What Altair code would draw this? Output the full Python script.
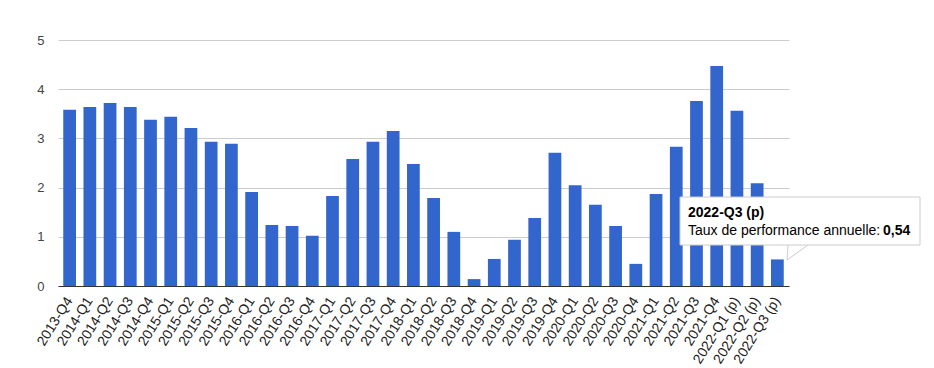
import altair as alt
import pandas as pd

quarters = [
    "2013-Q4",
    "2014-Q1", "2014-Q2", "2014-Q3", "2014-Q4",
    "2015-Q1", "2015-Q2", "2015-Q3", "2015-Q4",
    "2016-Q1", "2016-Q2", "2016-Q3", "2016-Q4",
    "2017-Q1", "2017-Q2", "2017-Q3", "2017-Q4",
    "2018-Q1", "2018-Q2", "2018-Q3", "2018-Q4",
    "2019-Q1", "2019-Q2", "2019-Q3", "2019-Q4",
    "2020-Q1", "2020-Q2", "2020-Q3", "2020-Q4",
    "2021-Q1", "2021-Q2", "2021-Q3", "2021-Q4",
    "2022-Q1 (p)", "2022-Q2 (p)", "2022-Q3 (p)",
]
rates = [
    3.58,
    3.64, 3.72, 3.64, 3.38,
    3.44, 3.21, 2.93, 2.89,
    1.91, 1.24, 1.22, 1.02,
    1.83, 2.58, 2.93, 3.15,
    2.48, 1.79, 1.10, 0.14,
    0.55, 0.94, 1.38, 2.71,
    2.05, 1.65, 1.22, 0.45,
    1.87, 2.83, 3.76, 4.47,
    3.56, 2.09, 0.54,
]
y_ticks = [0, 1, 2, 3, 4, 5]
series_name = "Taux de performance annuelle"

df = pd.DataFrame({"trimestre": quarters, "taux": rates})

FONT = "Liberation Sans"

x_enc = alt.X(
    "trimestre:N",
    sort=quarters,
    title=None,
    scale=alt.Scale(paddingInner=0.37, paddingOuter=0.26),
    axis=alt.Axis(
        labelAngle=-58,
        labelFont=FONT,
        labelFontSize=14,
        labelColor="#222222",
        labelPadding=12,
        ticks=False,
        domain=True,
        domainColor="#333333",
        domainWidth=1,
        grid=False,
        labelOverlap=False,
    ),
)
y_enc = alt.Y(
    "taux:Q",
    title=None,
    scale=alt.Scale(domain=[0, 5], nice=False, zero=True),
    axis=alt.Axis(
        values=y_ticks,
        labelFont=FONT,
        labelFontSize=13,
        labelColor="#444444",
        labelPadding=14,
        ticks=False,
        domain=False,
        grid=True,
        gridColor="#cccccc",
        gridWidth=1,
    ),
)

bars = alt.Chart(df).mark_bar(color="#3366cc").encode(x=x_enc, y=y_enc)

# tooltip shown for the last bar
last_label = quarters[-1]
last_val = f"{rates[-1]:.2f}".replace(".", ",")

one = pd.DataFrame({"a": [0]})
tip_tail_l = alt.Chart(one).mark_rule(color="#cccccc", strokeWidth=1).encode(
    x=alt.value(730), x2=alt.value(729), y=alt.value(205), y2=alt.value(220)
)
tip_tail_r = alt.Chart(one).mark_rule(color="#cccccc", strokeWidth=1).encode(
    x=alt.value(750), x2=alt.value(729), y=alt.value(205), y2=alt.value(220)
)
tip_box = alt.Chart(one).mark_rect(
    fill="white", stroke="#cccccc", strokeWidth=1
).encode(
    x=alt.value(622), x2=alt.value(862), y=alt.value(157), y2=alt.value(205)
)
tip_title = alt.Chart(pd.DataFrame({"t": [last_label]})).mark_text(
    font=FONT, fontSize=14, fontWeight="bold", color="#000000", align="left", baseline="alphabetic"
).encode(text="t:N", x=alt.value(630), y=alt.value(177))
tip_name = alt.Chart(pd.DataFrame({"t": [series_name + ":"]})).mark_text(
    font=FONT, fontSize=14, color="#000000", align="left", baseline="alphabetic"
).encode(text="t:N", x=alt.value(630), y=alt.value(195))
tip_val = alt.Chart(pd.DataFrame({"t": [last_val]})).mark_text(
    font=FONT, fontSize=14, fontWeight="bold", color="#000000", align="left", baseline="alphabetic"
).encode(text="t:N", x=alt.value(825), y=alt.value(195))

chart = (
    alt.layer(bars, tip_tail_l, tip_tail_r, tip_box, tip_title, tip_name, tip_val)
    .properties(
        width=731,
        height=246,
        autosize=alt.AutoSizeParams(type="none"),
        padding={"left": 58, "top": 40, "right": 145, "bottom": 82},
        background="white",
    )
    .configure_view(stroke=None)
)

chart.save("out.html", embed_options={"renderer": "svg", "actions": False})
